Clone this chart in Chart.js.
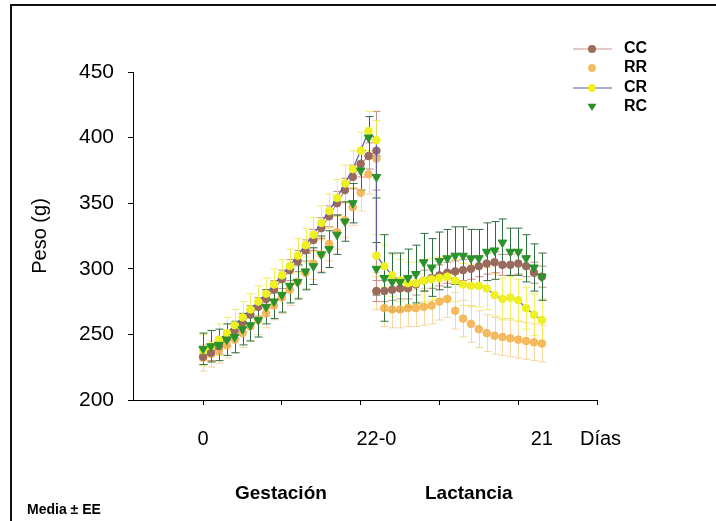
<!DOCTYPE html>
<html>
<head>
<meta charset="utf-8">
<script src="https://cdn.jsdelivr.net/npm/chart.js@4.4.1/dist/chart.umd.min.js"></script>
<style>
html,body{margin:0;padding:0;background:#fff;}
canvas{display:block;}
</style>
</head>
<body>
<canvas id="c" width="716" height="521"></canvas>
<script>
// ---- categories ----
const gestDays = [0,1,2,3,4,5,6,7,8,9,10,11,12,13,14,15,16,17,18,19,20,21,22];
const lactDays = [0,1,2,3,4,5,6,7,8,9,10,11,12,13,14,15,16,17,18,19,20,21];
const lactOffset = 22; // lactation day 0 sits at gestation day 22 on the axis
const seriesNames = ['CC','RR','CR','RC'];

// ---- series values (g) ----
const ccGest = [233,236,241,247,253,259,265,271,277,284,292,299,306,314,322,331,340,350,360,370,380,386,390];
const ccLact = [283,283,284,285,285,288,291,293,295,297,298,299,300,302,304,305,303,303,304,302,297,294];
const rrGest = [232,235,238,242,246,251,256,261,266,272,278,284,290,297,304,311,319,328,337,347,358,372,384];
const rrLact = [283,270,269,269,270,270,271,272,275,277,268,262,258,254,251,249,248,247,246,245,244,243];
const crGest = [238,241,246,251,257,263,269,275,281,288,295,302,310,318,326,335,344,354,365,376,390,405,398];
const crLact = [310,302,295,291,289,289,291,292,293,294,291,288,287,287,285,280,277,278,276,270,265,261];
const rcGest = [239,241,242,246,248,254,257,261,271,275,280,287,290,298,302,311,315,326,336,350,375,400,370];
const rcLact = [300,293,290,290,293,296,305,301,306,308,310,310,308,308,313,314,320,313,313,308,301,294];

// ---- standard errors (g) ----
const ccGestErr = [6,6,6,6,6,7,7,7,7,7,7,8,8,8,8,8,8,9,9,9,10,10,30];
const ccLactErr = [8,8,8,8,8,8,8,8,8,8,8,8,8,8,8,8,8,8,8,8,8,8];
const rrGestErr = [10,10,10,10,10,11,11,11,11,11,12,12,12,12,12,13,13,13,13,14,14,15,15];
const rrLactErr = [14,14,14,14,14,14,14,14,14,14,14,14,14,14,14,14,14,14,14,14,14,14];
const crGestErr = [12,12,12,12,12,12,12,12,12,12,12,13,13,13,13,13,13,14,14,14,14,15,15];
const crLactErr = [16,16,16,16,16,16,16,16,16,16,16,16,16,16,16,16,16,16,16,16,16,16];
const rcGestErr = [12,12,12,12,12,12,12,13,13,13,13,13,13,14,14,14,14,15,15,15,15,16,16];
const rcLactErr = [20,33,22,22,22,22,22,22,22,22,22,22,22,22,22,22,18,18,18,18,18,18];

// ---- axis ----
const yTickValues = [200,250,300,350,400,450];
const xTickValues = [0,10,20,30,40,50];
const xLabelValues = [0,22,43];
const xLabelTexts = ['0','22-0','21'];

function pts(gest, lact){
  const out = [];
  gestDays.forEach((d,i)=>out.push({x:d, y:gest[i]}));
  lactDays.forEach((d,i)=>out.push({x:lactOffset+d, y:lact[i]}));
  return out;
}
function errs(g,l){ return g.concat(l); }

const styles = {
  CC:{point:'#9a6a5c', line:'#c9918a', err:'#c98a84', showLine:true, pointStyle:'circle', r:3.8},
  RR:{point:'rgba(244,176,72,0.85)', line:'rgba(244,176,72,0.5)', err:'rgba(246,200,130,0.75)', showLine:false, pointStyle:'circle', r:3.8},
  CR:{point:'#eef020', line:'#5a5aa8', err:'rgba(236,236,70,0.85)', showLine:true, pointStyle:'circle', r:3.8},
  RC:{point:'#2a922a', line:'#2a922a', err:'#2d6e3e', showLine:false, pointStyle:'triangle', r:5}
};

const datasetsSrc = [
  {name:'CC', data:pts(ccGest,ccLact), err:errs(ccGestErr,ccLactErr), order:3},
  {name:'RR', data:pts(rrGest,rrLact), err:errs(rrGestErr,rrLactErr), order:4},
  {name:'CR', data:pts(crGest,crLact), err:errs(crGestErr,crLactErr), order:2},
  {name:'RC', data:pts(rcGest,rcLact), err:errs(rcGestErr,rcLactErr), order:1}
];

const datasets = datasetsSrc.map(s=>{
  const st = styles[s.name];
  return {
    label:s.name,
    data:s.data,
    errors:s.err,
    order:s.order,
    showLine:st.showLine,
    borderColor:st.line,
    borderWidth:1.2,
    pointBackgroundColor:st.point,
    pointBorderColor:st.point,
    pointBorderWidth:1,
    pointRadius:st.r,
    pointStyle:st.pointStyle,
    rotation: st.pointStyle==='triangle'?180:0,
    errColor:st.err,
    tension:0
  };
});

const FONT = '"Liberation Sans", Arial, sans-serif';

const errorBars = {
  id:'errorBars',
  beforeDatasetsDraw(chart){
    const ctx = chart.ctx, xs = chart.scales.x, ys = chart.scales.y;
    ctx.save();
    const list = chart.data.datasets.map((d,i)=>({d,i})).sort((a,b)=>b.d.order-a.d.order);
    list.forEach(({d})=>{
      ctx.strokeStyle = d.errColor;
      ctx.lineWidth = 1;
      d.data.forEach((p,j)=>{
        const e = d.errors[j];
        const x = Math.round(xs.getPixelForValue(p.x))+0.5;
        const y1 = ys.getPixelForValue(p.y+e);
        const y2 = ys.getPixelForValue(p.y-e);
        ctx.beginPath();
        ctx.moveTo(x,y1); ctx.lineTo(x,y2);
        ctx.moveTo(x-4,y1); ctx.lineTo(x+4,y1);
        ctx.moveTo(x-4,y2); ctx.lineTo(x+4,y2);
        ctx.stroke();
      });
    });
    ctx.restore();
  }
};

const decorations = {
  id:'decorations',
  afterDraw(chart){
    const ctx = chart.ctx, xs = chart.scales.x, ys = chart.scales.y;
    ctx.save();
    // frame
    ctx.strokeStyle = '#111';
    ctx.lineWidth = 2;
    ctx.beginPath();
    ctx.moveTo(11,521); ctx.lineTo(11,5); ctx.lineTo(716,5);
    ctx.stroke();

    ctx.fillStyle = '#000';
    // x labels
    ctx.font = '20px '+FONT;
    ctx.textAlign = 'center';
    ctx.textBaseline = 'middle';
    xLabelValues.forEach((v,i)=>{
      ctx.fillText(xLabelTexts[i], xs.getPixelForValue(v), 439);
    });
    ctx.textAlign = 'left';
    ctx.fillText('Días', 580, 439);

    // y title
    ctx.save();
    ctx.translate(40, ys.getPixelForValue(325));
    ctx.rotate(-Math.PI/2);
    ctx.textAlign='center';
    ctx.font = '20px '+FONT;
    ctx.fillText('Peso (g)',0,0);
    ctx.restore();

    // phase labels
    ctx.font = 'bold 19px '+FONT;
    ctx.textAlign = 'left';
    ctx.fillText('Gestación', 235, 494);
    ctx.fillText('Lactancia', 425, 494);
    ctx.font = 'bold 14px '+FONT;
    ctx.fillText('Media ± EE', 27, 510);

    // legend
    const rows = [49,68,88,107];
    chart.data.datasets.forEach((d,i)=>{
      const y = rows[i];
      if (d.showLine){
        ctx.strokeStyle = d.borderColor;
        ctx.lineWidth = 1.2;
        ctx.beginPath(); ctx.moveTo(573,y); ctx.lineTo(612,y); ctx.stroke();
      }
      ctx.fillStyle = d.pointBackgroundColor;
      ctx.beginPath();
      if (d.pointStyle==='triangle'){
        const r = 4.5;
        ctx.moveTo(592-r, y-r*0.7); ctx.lineTo(592+r, y-r*0.7); ctx.lineTo(592, y+r*0.9);
        ctx.closePath();
      } else {
        ctx.arc(592,y,4,0,Math.PI*2);
      }
      ctx.fill();
      ctx.fillStyle = '#000';
      ctx.font = 'bold 16px '+FONT;
      ctx.textAlign='left';
      ctx.fillText(d.label, 624, y);
    });
    ctx.restore();
  }
};

new Chart(document.getElementById('c'), {
  type:'line',
  data:{datasets},
  options:{
    responsive:false,
    animation:false,
    devicePixelRatio:1,
    layout:{padding:{left:0,right:119,top:72,bottom:111}},
    plugins:{legend:{display:false},tooltip:{enabled:false}},
    scales:{
      x:{
        type:'linear', min:-8.9, max:50,
        afterBuildTicks(s){ s.ticks = xTickValues.map(v=>({value:v})); },
        afterFit(s){ s.height = 10; },
        ticks:{display:false},
        grid:{drawOnChartArea:false, drawTicks:true, tickLength:5, color:'#000'},
        border:{display:true, color:'#000', width:1}
      },
      y:{
        type:'linear', min:200, max:450,
        afterBuildTicks(s){ s.ticks = yTickValues.map(v=>({value:v})); },
        afterFit(s){ s.width = 133; },
        ticks:{color:'#000', padding:14, font:{family:FONT, size:21}},
        grid:{drawOnChartArea:false, drawTicks:true, tickLength:5, color:'#000'},
        border:{display:true, color:'#000', width:1}
      }
    }
  },
  plugins:[errorBars, decorations]
});
</script>
</body>
</html>
